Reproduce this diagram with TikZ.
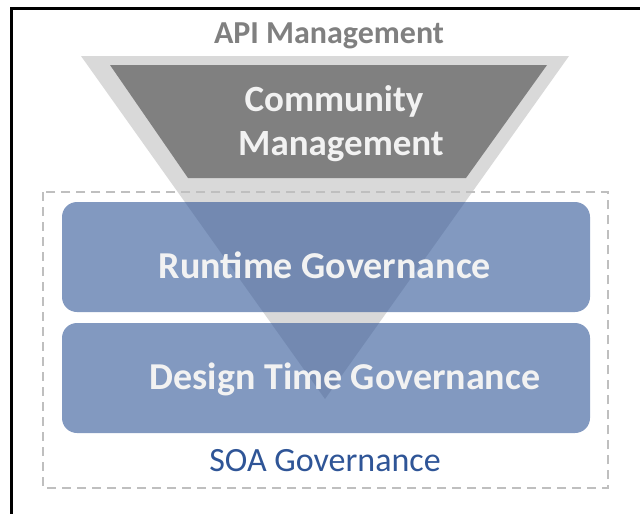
\documentclass[tikz,border=0pt]{standalone}
\usepackage{fontspec}
\setmainfont{Carlito}
\definecolor{lightgr}{HTML}{D9D9D9}
\definecolor{darkgr}{HTML}{808080}
\definecolor{govblue}{HTML}{2F5597}
\definecolor{txtwhite}{HTML}{F2F2F2}
\definecolor{dashgr}{HTML}{BFBFBF}
\tikzset{
  govbox/.style={fill=govblue, fill opacity=0.6, draw=none, rounded corners=15pt},
  boxlabel/.style={anchor=base, text=txtwhite, font=\bfseries\fontsize{38}{38}\selectfont, inner sep=0pt},
  funnellabel/.style={anchor=base, text=txtwhite, font=\bfseries\fontsize{37}{37}\selectfont, inner sep=0pt},
  frameline/.style={line width=3pt, black},
}
\begin{document}
\begin{tikzpicture}[x=1pt,y=-1pt]
\useasboundingbox (0,0) rectangle (640,514);
\fill[white] (0,0) rectangle (640,514);
% frame
\draw[frameline] (10,8.5) -- (640,8.5);
\draw[frameline] (11.5,7) -- (11.5,514);
% funnel
\fill[lightgr] (81,56) -- (569,56) -- (325,399) -- cycle;
\fill[darkgr] (110,65) -- (547,65) -- (466,178) -- (188,178) -- cycle;
% SOA governance container
\draw[dashgr, line width=1.6pt, dash pattern=on 9pt off 6pt] (43,192) rectangle (608,488);
% governance boxes
\fill[govbox] (62,202) rectangle (590,312);
\fill[govbox] (62,323) rectangle (590,433);
% texts
\node[anchor=base, text=darkgr, font=\bfseries\fontsize{32}{32}\selectfont, inner sep=0pt] (api) at (329,43) {API Management};
\node[funnellabel] (comm) at (334,111) {Community};
\node[funnellabel] (mgmt) at (341,155) {Management};
\node[boxlabel] (rt) at (325,278) {Runtime Governance};
\node[boxlabel] (dt) at (345,389) {Design Time Governance};
\node[anchor=base, text=govblue, font=\fontsize{34}{34}\selectfont, inner sep=0pt] (soa) at (325,471) {SOA Governance};
\end{tikzpicture}
\end{document}
